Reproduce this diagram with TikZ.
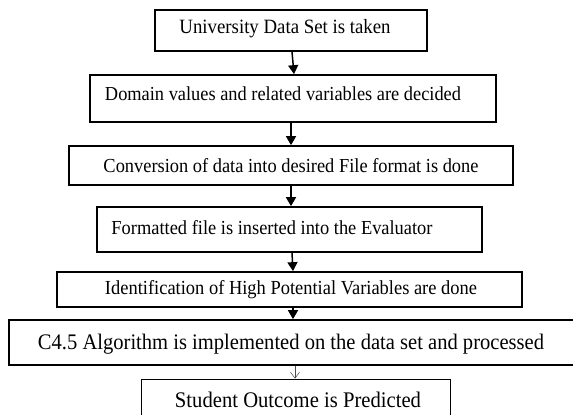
\documentclass[tikz,border=0pt]{standalone}
\usepackage{fontspec}
\setmainfont{Liberation Serif}
\usetikzlibrary{arrows.meta}
\newcommand{\fitw}[2]{\resizebox{#1}{!}{\scalebox{1}[1.08]{#2}}}
\begin{document}
\begin{tikzpicture}[x=1pt,y=-1pt,
  box/.style={draw, line width=1.7pt, inner sep=0pt, rectangle},
  thinbox/.style={draw, line width=0.8pt, inner sep=0pt, rectangle},
  txt/.style={inner sep=0pt, anchor=center},
  arr/.style={line width=1.5pt, -{Triangle[width=10pt,length=9pt]}},
  thinarr/.style={line width=0.5pt, draw=black!70, -{Straight Barb[width=9pt,length=6pt,line width=0.5pt]}}]
\useasboundingbox (0,0) rectangle (573,415);
\clip (0,0) rectangle (573,415);
\fill[white] (0,0) rectangle (573,415);
\node[box, minimum width=272pt, minimum height=41pt] (b1) at (291,30.5) {};
\node[box, minimum width=406pt, minimum height=47pt] (b2) at (293,98.5) {};
\node[box, minimum width=444pt, minimum height=39pt] (b3) at (291,165.5) {};
\node[box, minimum width=385pt, minimum height=45pt] (b4) at (289.5,229.5) {};
\node[box, minimum width=465pt, minimum height=35pt] (b5) at (289.5,289.5) {};
\node[box, minimum width=580pt, minimum height=45pt] (b6) at (299,342.5) {};
\node[thinbox, minimum width=309pt, minimum height=52pt] (b7) at (295.5,405) {};
\node[txt] (t1) at (285,29) {\fitw{211pt}{University Data Set is taken}};
\node[txt] (t2) at (283,94) {\fitw{356pt}{Domain values and related variables are decided}};
\node[txt] (t3) at (291,166) {\fitw{375pt}{Conversion of data into desired File format is done}};
\node[txt] (t4) at (272,228) {\fitw{321pt}{Formatted file is inserted into the Evaluator}};
\node[txt] (t5) at (291,290) {\fitw{372pt}{Identification of High Potential Variables are done}};
\node[txt] (t6) at (291,344) {\fitw{506pt}{C4.5 Algorithm is implemented on the data set and processed}};
\node[txt] (t7) at (298,400) {\fitw{246pt}{Student Outcome is Predicted}};
\draw[arr] (b1.south -| 292,0) -- (b2.north -| 294,0);
\draw[arr] (b2.south -| 291,0) -- (b3.north -| 291,0);
\draw[arr] (b3.south -| 291,0) -- (b4.north -| 291,0);
\draw[arr] (b4.south -| 292,0) -- (b5.north -| 293,0);
\draw[arr] (b5.south -| 293,0) -- (b6.north -| 293,0);
\draw[thinarr] (b6.south -| 295,0) -- (b7.north -| 295,0);
\end{tikzpicture}
\end{document}
